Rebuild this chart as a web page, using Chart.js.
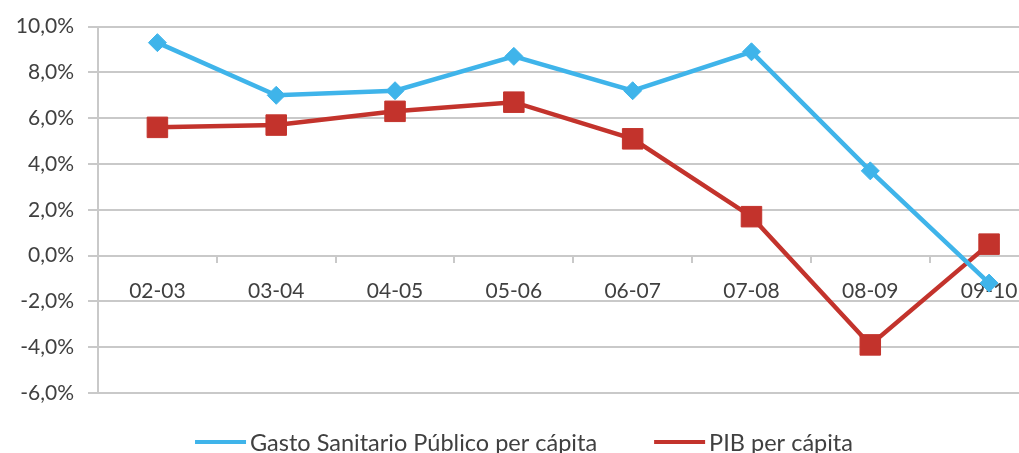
<!DOCTYPE html>
<html>
<head>
<meta charset="utf-8">
<script src="https://cdn.jsdelivr.net/npm/chart.js@4/dist/chart.umd.min.js"></script>
<style>
  html, body { margin: 0; padding: 0; background: #ffffff; overflow: hidden; }
  #wrap { width: 1064px; height: 453px; position: relative; }
</style>
</head>
<body>
<div id="wrap"><canvas id="chart" width="1064" height="453"></canvas></div>
<script>
// Periods (year over year)
const categories = ['02-03', '03-04', '04-05', '05-06', '06-07', '07-08', '08-09', '09-10'];
// Annual change, percent
const gastoSanitario = [9.3, 7.0, 7.2, 8.7, 7.2, 8.9, 3.7, -1.2];
const pibPerCapita   = [5.6, 5.7, 6.3, 6.7, 5.1, 1.7, -3.9, 0.5];
// Vertical axis ticks, percent
const yTicks = [-6, -4, -2, 0, 2, 4, 6, 8, 10];

const seriesNames = ['Gasto Sanitario Público per cápita', 'PIB per cápita'];
const BLUE = '#3fb4ea';
const RED = '#c3332c';
const TEXT = '#404040';
const GRID = '#c9c9c9';
const FONT = 'Lato, "Open Sans", sans-serif';
const LEGEND_CENTER_X = 524;

const fmtPct = v => v.toFixed(1).replace('.', ',') + '%';

// Legend drawn under the plot: a short line with the series marker, then the name
const lineLegend = {
  id: 'lineLegend',
  afterDraw(chart) {
    const ctx = chart.ctx;
    ctx.save();
    ctx.font = '23.5px ' + FONT;
    ctx.textBaseline = 'middle';
    const lineW = 51, gapText = 4, gapItems = 57;
    const items = chart.data.datasets.map(ds => ({
      ds, w: lineW + gapText + ctx.measureText(ds.label).width
    }));
    const total = items.reduce((s, it) => s + it.w, 0) + gapItems * (items.length - 1);
    let x = LEGEND_CENTER_X - total / 2;
    const y = 442;
    items.forEach(it => {
      const ds = it.ds;
      ctx.strokeStyle = ds.borderColor;
      ctx.lineWidth = 4;
      ctx.beginPath();
      ctx.moveTo(x, y);
      ctx.lineTo(x + lineW, y);
      ctx.stroke();
      ctx.fillStyle = ds.pointBackgroundColor;
      ctx.strokeStyle = ds.pointBorderColor;
      ctx.lineWidth = 1;
      Chart.helpers.drawPoint(ctx, {
        pointStyle: ds.pointStyle,
        rotation: 0,
        borderWidth: 1
      }, x + lineW / 2, y, ds.pointStyle === 'rect' ? 11 : 7);
      ctx.fillStyle = TEXT;
      ctx.fillText(ds.label, x + lineW + gapText, y + 1);
      x += it.w + gapItems;
    });
    ctx.restore();
  }
};

new Chart(document.getElementById('chart'), {
  type: 'line',
  data: {
    labels: categories,
    datasets: [
      {
        label: seriesNames[0],
        data: gastoSanitario,
        borderColor: BLUE,
        backgroundColor: BLUE,
        borderWidth: 4.5,
        pointStyle: 'rectRot',
        pointRadius: 9,
        pointBackgroundColor: BLUE,
        pointBorderColor: BLUE,
        pointBorderWidth: 1,
        tension: 0,
        clip: false
      },
      {
        label: seriesNames[1],
        data: pibPerCapita,
        borderColor: RED,
        backgroundColor: RED,
        borderWidth: 4.5,
        pointStyle: 'rect',
        pointRadius: 14.5,
        pointBackgroundColor: RED,
        pointBorderColor: RED,
        pointBorderWidth: 1,
        tension: 0,
        clip: false
      }
    ]
  },
  options: {
    responsive: false,
    animation: false,
    events: [],
    layout: { padding: { top: 26, right: 0, bottom: 60, left: 0 } },
    plugins: {
      legend: { display: false },
      tooltip: { enabled: false }
    },
    scales: {
      x: {
        type: 'category',
        position: { y: 0 },
        offset: true,
        grid: {
          display: true,
          drawOnChartArea: false,
          drawTicks: true,
          tickLength: 6,
          offset: true,
          color: GRID,
          lineWidth: 2
        },
        border: { display: true, color: GRID, width: 2 },
        ticks: {
          color: TEXT,
          font: { family: FONT, size: 21 },
          padding: 17,
          maxRotation: 0,
          autoSkip: false
        },
        afterFit(s) { s.paddingLeft = 0; s.paddingRight = 0; }
      },
      y: {
        min: yTicks[0],
        max: yTicks[yTicks.length - 1],
        afterBuildTicks(s) { s.ticks = yTicks.map(v => ({ value: v })); },
        grid: {
          color: GRID,
          lineWidth: 2,
          tickLength: 10
        },
        border: { display: true, color: GRID, width: 2 },
        ticks: {
          color: TEXT,
          font: { family: FONT, size: 21 },
          padding: 14,
          callback: v => fmtPct(v)
        },
        afterFit(s) { s.width = 98; }
      }
    }
  },
  plugins: [lineLegend]
});
</script>
</body>
</html>
